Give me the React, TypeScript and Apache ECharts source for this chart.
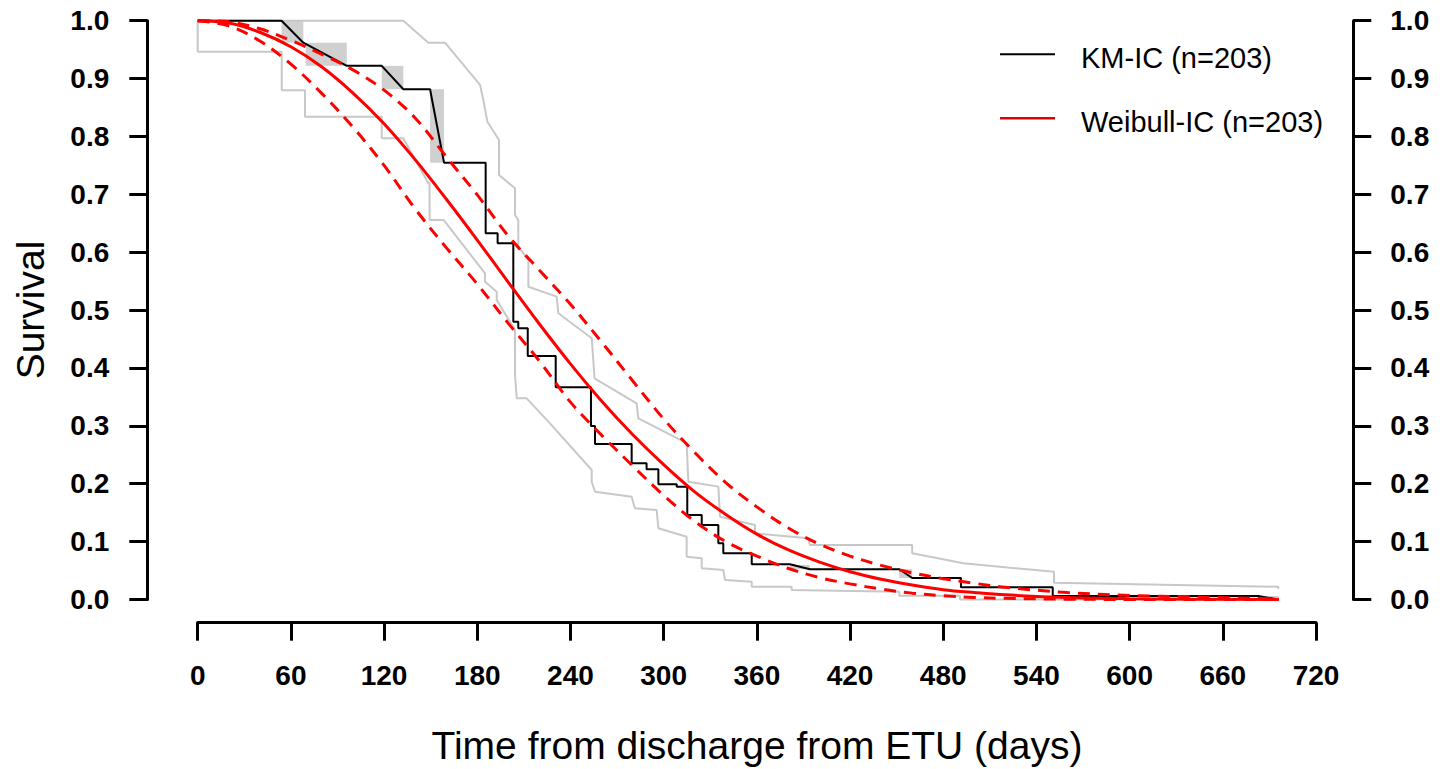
import React, { useEffect, useRef } from "react";
import * as echarts from "echarts";

// ---------- data ----------
// Kaplan-Meier (interval censored) curve vertices: [days, survival]
const KM_CURVE: [number, number][] = [
  [0, 1], [54, 1], [68, 0.962], [96, 0.922], [118.5, 0.922], [132.4, 0.8815],
  [149.6, 0.8815], [158.6, 0.7547], [185.4, 0.7547], [185.4, 0.6327], [193.1, 0.6327],
  [193.1, 0.6154], [203.2, 0.6154], [203.2, 0.48], [206.4, 0.48], [206.4, 0.4685],
  [212.5, 0.4685], [212.5, 0.4207], [230.5, 0.4207], [230.5, 0.3666], [253.2, 0.3666],
  [253.2, 0.2998], [255.8, 0.2998], [255.8, 0.2687], [279.4, 0.2687], [279.4, 0.2353],
  [289, 0.2353], [289, 0.225], [296.6, 0.225], [296.6, 0.199], [308.4, 0.199],
  [308.4, 0.195], [315.2, 0.195], [315.2, 0.146], [324.5, 0.146], [324.5, 0.1287],
  [335.2, 0.1287], [335.2, 0.097], [338.4, 0.097], [338.4, 0.0798], [356.7, 0.0798],
  [356.7, 0.0608], [381.3, 0.0608], [394.2, 0.0522], [451.7, 0.0522], [460, 0.0371],
  [491.4, 0.0371], [491.4, 0.021], [550.5, 0.021], [550.5, 0.006], [682.9, 0.006],
  [695.7, 0],
];

// Turnbull intervals (shaded): [t start, t end, survival low, survival high]
const KM_INTERVALS: [number, number, number, number][] = [
  [54, 68, 0.962, 1.0],
  [69.5, 96, 0.922, 0.962],
  [118.5, 132.4, 0.8815, 0.922],
  [149.6, 158.6, 0.7547, 0.8815],
  [381.3, 394.2, 0.0522, 0.0596],
  [451.7, 460, 0.0371, 0.0522],
  [682.9, 695.7, 0, 0.006],
];

// KM confidence band (grey)
const KM_UPPER: [number, number][] = [
  [0, 1], [132.4, 1], [148.5, 0.962], [159.2, 0.962], [181.8, 0.889], [183.9, 0.8631],
  [186.5, 0.8255], [194, 0.7939], [194, 0.7335], [204.3, 0.7104], [204.3, 0.6643],
  [206.4, 0.6557], [206.4, 0.6096], [212.9, 0.5866], [212.9, 0.5404], [231.1, 0.5232],
  [232.2, 0.4945], [253.7, 0.4513], [255.5, 0.3822], [282.6, 0.339], [283.7, 0.313],
  [314.8, 0.27], [315.9, 0.2035], [335.2, 0.195], [336.3, 0.143], [358.8, 0.1287],
  [358.8, 0.1144], [393.1, 0.1057], [394.2, 0.0942], [460, 0.0942], [460, 0.0798],
  [493, 0.0625], [551.3, 0.048], [551.3, 0.029], [695.7, 0.022], [695.7, 0.018],
];
const KM_LOWER: [number, number][] = [
  [0, 1], [0, 0.9465], [54.1, 0.9465], [54.1, 0.88], [69.1, 0.88], [69.1, 0.834],
  [118.5, 0.834], [118.5, 0.797], [132.4, 0.797], [148.5, 0.719], [149.3, 0.719],
  [149.3, 0.6557], [158.3, 0.6557], [185, 0.5636], [185, 0.549], [192.5, 0.5318],
  [192.5, 0.5175], [204.3, 0.4656], [204.3, 0.3879], [205.4, 0.3476], [211.8, 0.3476],
  [226.8, 0.3044], [253.7, 0.2237], [253.7, 0.2035], [255.8, 0.1862], [279.4, 0.1776],
  [281.5, 0.1576], [295.5, 0.1546], [296.6, 0.123], [314.8, 0.1085], [314.8, 0.074],
  [324.5, 0.0712], [324.5, 0.0539], [338.4, 0.051], [339.5, 0.0337], [356.7, 0.0308],
  [356.7, 0.0221], [382.4, 0.0221], [382.4, 0.0164], [451.7, 0.0135], [451.7, 0.0066],
  [490.8, 0.0066], [490.8, 0], [695.7, 0],
];

// Weibull fit and its confidence limits
const WEIBULL_T = [0, 20, 40, 60, 80, 100, 120, 140, 160, 180, 200, 220, 240, 260, 280, 300,
  320, 340, 360, 380, 400, 420, 440, 460, 480, 500, 520, 560, 600, 640, 696];
const WEIBULL_FIT = [1, 0.996, 0.98, 0.955, 0.92, 0.875, 0.822, 0.76, 0.692, 0.621, 0.548,
  0.476, 0.407, 0.343, 0.285, 0.233, 0.186, 0.147, 0.113, 0.086, 0.065, 0.048, 0.035, 0.025,
  0.017, 0.012, 0.008, 0.0035, 0.0015, 0.0006, 0.0001];
const WEIBULL_UPPER = [1, 0.998, 0.986, 0.966, 0.942, 0.915, 0.88, 0.832, 0.765, 0.699, 0.628,
  0.569, 0.51, 0.445, 0.378, 0.312, 0.254, 0.202, 0.16, 0.124, 0.096, 0.075, 0.059, 0.046,
  0.036, 0.028, 0.021, 0.012, 0.007, 0.0045, 0.0008];
const WEIBULL_LOWER = [1, 0.991, 0.965, 0.925, 0.874, 0.816, 0.75, 0.675, 0.608, 0.545, 0.477,
  0.412, 0.341, 0.284, 0.231, 0.18, 0.135, 0.1, 0.075, 0.054, 0.038, 0.027, 0.018, 0.011,
  0.0065, 0.0035, 0.002, 0.0005, 0.0001, 0, 0];

const X_TICK_MAX = 720;
const X_TICK_STEP = 60;
const Y_TICK_STEP = 0.1;

const LEGEND_LABELS = ["KM-IC (n=203)", "Weibull-IC (n=203)"];
const X_TITLE = "Time from discharge from ETU (days)";
const Y_TITLE = "Survival";

// ---------- layout ----------
const FONT = '"Liberation Sans", Arial, Helvetica, sans-serif';
const X0_PX = 197.7;
const X720_PX = 1316;
const PX_PER_DAY = (X720_PX - X0_PX) / 720;
const PLOT_LEFT = 147.3;
const PLOT_RIGHT = 1353.3;
const W = 1450;
const H = 769;

const zip = (t: number[], s: number[]) => t.map((v, i) => [v, s[i]]);

export default function App() {
  const ref = useRef<HTMLDivElement>(null);

  useEffect(() => {
    if (!ref.current) return;
    const chart = echarts.init(ref.current, null, { renderer: "svg" });

    const yAxisBase = (position: "left" | "right", margin: number) => ({
      type: "value",
      gridIndex: 0,
      min: 0,
      max: 1,
      interval: Y_TICK_STEP,
      position,
      axisLine: { show: true, onZero: false, lineStyle: { color: "#000", width: 3 } },
      axisTick: { show: true, inside: false, length: 18, lineStyle: { color: "#000", width: 3 } },
      axisLabel: {
        show: true,
        margin,
        color: "#000",
        fontSize: 28,
        fontWeight: "bold",
        fontFamily: FONT,
        formatter: (v: number) => v.toFixed(1),
      },
      splitLine: { show: false },
    });

    const lineSeries = (data: number[][], color: string, width: number, type: any, z: number) => ({
      type: "line",
      xAxisIndex: 0,
      yAxisIndex: 0,
      data,
      symbol: "none",
      showSymbol: false,
      clip: false,
      silent: true,
      z,
      lineStyle: { color, width, type },
    });

    const option: any = {
      animation: false,
      backgroundColor: "#ffffff",
      grid: [
        {
          left: PLOT_LEFT,
          right: W - PLOT_RIGHT,
          top: 20.7,
          bottom: H - 599.5,
          containLabel: false,
          outerBoundsMode: "none",
        },
        {
          left: X0_PX,
          right: W - X720_PX,
          top: 621.7,
          height: 1,
          containLabel: false,
          outerBoundsMode: "none",
        },
      ],
      xAxis: [
        {
          type: "value",
          gridIndex: 0,
          min: (PLOT_LEFT - X0_PX) / PX_PER_DAY,
          max: (PLOT_RIGHT - X0_PX) / PX_PER_DAY,
          show: false,
        },
        {
          type: "value",
          gridIndex: 1,
          min: 0,
          max: X_TICK_MAX,
          interval: X_TICK_STEP,
          position: "bottom",
          axisLine: { show: true, onZero: false, lineStyle: { color: "#000", width: 3 } },
          axisTick: { show: true, inside: false, length: 18, lineStyle: { color: "#000", width: 3 } },
          axisLabel: {
            show: true,
            margin: 39,
            color: "#000",
            fontSize: 28,
            fontWeight: "bold",
            fontFamily: FONT,
            showMinLabel: true,
            showMaxLabel: true,
          },
          splitLine: { show: false },
        },
      ],
      yAxis: [
        yAxisBase("left", 38),
        yAxisBase("right", 37),
        { type: "value", gridIndex: 1, min: 0, max: 1, show: false },
      ],
      series: [
        {
          type: "custom",
          xAxisIndex: 0,
          yAxisIndex: 0,
          data: KM_INTERVALS,
          encode: { x: [0, 1], y: [2, 3] },
          clip: false,
          silent: true,
          z: 1,
          renderItem: (_params: any, api: any) => {
            const a = api.coord([api.value(0), api.value(3)]);
            const b = api.coord([api.value(1), api.value(2)]);
            return {
              type: "rect",
              shape: { x: a[0], y: a[1], width: b[0] - a[0], height: b[1] - a[1] },
              style: { fill: "#d0d0d0" },
            };
          },
        },
        lineSeries(KM_UPPER, "#c8c8c8", 2, "solid", 2),
        lineSeries(KM_LOWER, "#c8c8c8", 2, "solid", 2),
        lineSeries(KM_CURVE, "#000000", 2, "solid", 3),
        { ...lineSeries(zip(WEIBULL_T, WEIBULL_FIT), "#ff0000", 3, "solid", 4), smooth: 0.35 },
        { ...lineSeries(zip(WEIBULL_T, WEIBULL_UPPER), "#ff0000", 3, [12, 8], 4), smooth: 0.35 },
        { ...lineSeries(zip(WEIBULL_T, WEIBULL_LOWER), "#ff0000", 3, [12, 8], 4), smooth: 0.35 },
      ],
      graphic: [
        {
          type: "text",
          x: 30,
          y: 310,
          rotation: Math.PI / 2,
          style: {
            text: Y_TITLE,
            fontSize: 39,
            fontFamily: FONT,
            fill: "#000",
            align: "center",
            verticalAlign: "middle",
          },
        },
        {
          type: "text",
          x: 757,
          y: 745,
          style: {
            text: X_TITLE,
            fontSize: 39,
            fontFamily: FONT,
            fill: "#000",
            align: "center",
            verticalAlign: "middle",
          },
        },
        {
          type: "line",
          shape: { x1: 1000, y1: 54.3, x2: 1055, y2: 54.3 },
          style: { stroke: "#000", lineWidth: 2 },
        },
        {
          type: "text",
          x: 1081,
          y: 57.5,
          style: {
            text: LEGEND_LABELS[0],
            fontSize: 29,
            fontFamily: FONT,
            fill: "#000",
            align: "left",
            verticalAlign: "middle",
          },
        },
        {
          type: "line",
          shape: { x1: 1000, y1: 118.3, x2: 1055, y2: 118.3 },
          style: { stroke: "#e00000", lineWidth: 2.5 },
        },
        {
          type: "text",
          x: 1081,
          y: 121.5,
          style: {
            text: LEGEND_LABELS[1],
            fontSize: 29,
            fontFamily: FONT,
            fill: "#000",
            align: "left",
            verticalAlign: "middle",
          },
        },
      ],
    };

    chart.setOption(option);
    return () => chart.dispose();
  }, []);

  return (
    <div
      ref={ref}
      style={{ position: "absolute", left: 0, top: 0, width: W, height: H, background: "#fff" }}
    />
  );
}
